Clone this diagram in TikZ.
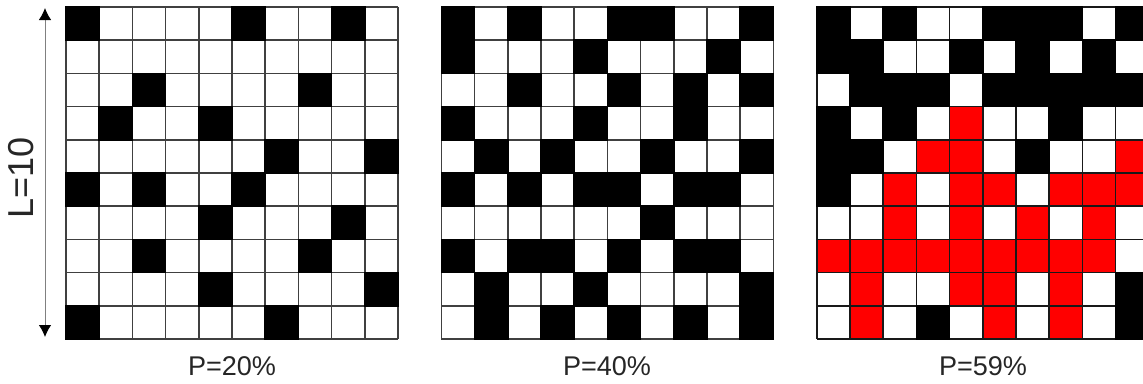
\documentclass[tikz,border=0pt]{standalone}
\usepackage{fontspec}
\setmainfont{Liberation Sans}
\usetikzlibrary{arrows.meta}

\begin{document}
\begin{tikzpicture}[x=0.02cm, y=-0.02cm,
    site/.style={fill=black, draw=black, line width=0.9pt},
    span/.style={fill=red},
    gridline/.style={draw=black!75, line width=0.9pt},
    plbl/.style={font=\fontsize{15.4}{18}\selectfont, text=black!85},
    dimarr/.style={{Latex[length=0.24cm,width=0.25cm,black]}-{Latex[length=0.24cm,width=0.25cm,black]}, black!50, line width=0.5pt},
    lattice/.style={x=0.664cm, y=-0.664cm}
  ]
  \useasboundingbox (0,0) rectangle (1143,383);
  \clip (0,0) rectangle (1143,383);

  % P = 20%
  \begin{scope}[shift={(1.32cm,-0.14cm)}, lattice]
    \foreach \i in {0,...,10} {
      \draw[gridline] (\i,0) -- (\i,10);
      \draw[gridline] (0,\i) -- (10,\i);
    }
    \foreach \c/\r in {1/1,6/1,9/1, 3/3,8/3, 2/4,5/4, 7/5,10/5, 1/6,3/6,6/6,
                       5/7,9/7, 3/8,8/8, 5/9,10/9, 1/10,7/10}
      \filldraw[site] (\c-1,\r-1) rectangle (\c,\r);
  \end{scope}

  % P = 40%
  \begin{scope}[shift={(8.83cm,-0.14cm)}, lattice]
    \foreach \i in {0,...,10} {
      \draw[gridline] (\i,0) -- (\i,10);
      \draw[gridline] (0,\i) -- (10,\i);
    }
    \foreach \c/\r in {1/1,3/1,6/1,7/1,10/1, 1/2,5/2,9/2, 3/3,6/3,8/3,10/3,
                       1/4,5/4,8/4, 2/5,4/5,7/5,10/5, 1/6,3/6,5/6,6/6,8/6,9/6,
                       7/7, 1/8,3/8,4/8,6/8,8/8,9/8, 2/9,5/9,10/9,
                       2/10,4/10,6/10,8/10,10/10}
      \filldraw[site] (\c-1,\r-1) rectangle (\c,\r);
  \end{scope}

  % P = 59%, spanning cluster in red
  \begin{scope}[shift={(16.34cm,-0.14cm)}, lattice]
    \foreach \c/\r in {5/4, 4/5,5/5,10/5, 3/6,5/6,6/6,8/6,9/6,10/6,
                       3/7,5/7,7/7,9/7, 1/8,2/8,3/8,4/8,5/8,6/8,7/8,8/8,9/8,
                       2/9,5/9,6/9,8/9, 2/10,6/10,8/10}
      \fill[span] (\c-1,\r-1) rectangle (\c,\r);
    \foreach \i in {0,...,10} {
      \draw[gridline, draw=black!90] (\i,0) -- (\i,10);
      \draw[gridline, draw=black!90] (0,\i) -- (10,\i);
    }
    \foreach \c/\r in {1/1,3/1,6/1,7/1,8/1,10/1, 1/2,2/2,5/2,7/2,9/2,
                       2/3,3/3,4/3,6/3,7/3,8/3,9/3,10/3, 1/4,3/4,8/4,
                       1/5,2/5,7/5, 1/6, 10/9, 4/10,10/10}
      \filldraw[site] (\c-1,\r-1) rectangle (\c,\r);
  \end{scope}

  \coordinate (ltop) at (45,8);
  \coordinate (lbot) at (45,337);
  \draw[dimarr] (ltop) -- (lbot);
  \node[rotate=90, font=\fontsize{20.5}{24}\selectfont, text=black!85] (lsize) at (21,178) {L=10};

  \node[plbl] (p20) at (232,366) {P=20\%};
  \node[plbl] (p40) at (607,366) {P=40\%};
  \node[plbl] (p59) at (983,366) {P=59\%};
\end{tikzpicture}
\end{document}
